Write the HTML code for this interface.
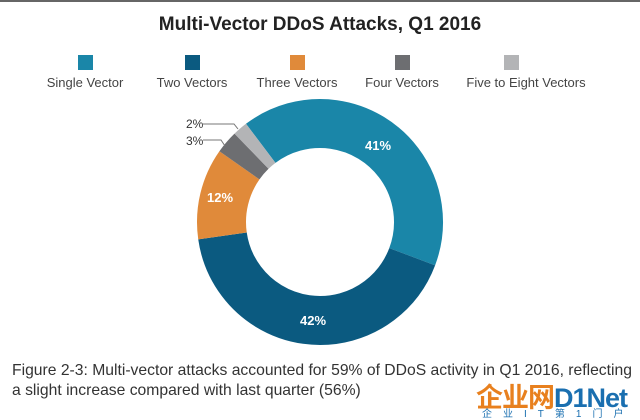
<!DOCTYPE html>
<html><head><meta charset="utf-8"><style>
html,body{margin:0;padding:0;background:#fff;}
body{width:640px;height:418px;position:relative;overflow:hidden;font-family:"Liberation Sans",sans-serif;}
.t{position:absolute;white-space:nowrap;}
.sq{position:absolute;width:15px;height:15px;top:55px;}
.lg{position:absolute;top:75px;font-size:13px;color:#444;white-space:nowrap;transform:translateX(-50%);}
</style></head><body>
<div style="position:absolute;left:0;top:0;width:640px;height:2px;background:#666"></div>
<div class="t" style="left:0;width:640px;text-align:center;top:14px;font-size:19px;font-weight:bold;color:#222;">Multi-Vector DDoS Attacks, Q1 2016</div>
<div class="sq" style="left:78px;background:#1a86a8"></div>
<div class="sq" style="left:185px;background:#0b5a80"></div>
<div class="sq" style="left:290px;background:#e08a3a"></div>
<div class="sq" style="left:395px;background:#6d6e71"></div>
<div class="sq" style="left:504px;background:#b3b4b6"></div>
<div class="lg" style="left:85px">Single Vector</div>
<div class="lg" style="left:192px">Two Vectors</div>
<div class="lg" style="left:297px">Three Vectors</div>
<div class="lg" style="left:402px">Four Vectors</div>
<div class="lg" style="left:526px">Five to Eight Vectors</div>
<svg width="640" height="418" style="position:absolute;left:0;top:0" xmlns="http://www.w3.org/2000/svg">
<g transform="translate(320,222) rotate(-127)" fill="none" stroke-width="49">
<circle r="98.5" stroke="#1a86a8" stroke-dasharray="253.7 1000" stroke-dashoffset="0"/>
<circle r="98.5" stroke="#0b5a80" stroke-dasharray="259.9 1000" stroke-dashoffset="-253.7"/>
<circle r="98.5" stroke="#e08a3a" stroke-dasharray="74.3 1000" stroke-dashoffset="-513.6"/>
<circle r="98.5" stroke="#6d6e71" stroke-dasharray="18.6 1000" stroke-dashoffset="-587.9"/>
<circle r="98.5" stroke="#b3b4b6" stroke-dasharray="12.4 1000" stroke-dashoffset="-606.5"/>
</g>
<g font-family="Liberation Sans,sans-serif" font-size="13" font-weight="bold" fill="#fff" text-anchor="middle">
<text x="378" y="150">41%</text>
<text x="313" y="325">42%</text>
<text x="220" y="202">12%</text>
</g>
<g font-family="Liberation Sans,sans-serif" font-size="12" fill="#333">
<text x="186" y="128">2%</text>
<text x="186" y="145">3%</text>
</g>
<polyline points="203,124 234,124 238,129" fill="none" stroke="#777" stroke-width="1"/>
<polyline points="203,140 221,140 225,146" fill="none" stroke="#777" stroke-width="1"/>
</svg>
<div class="t" style="left:12px;top:361px;font-size:15.7px;color:#333;line-height:20px;">Figure 2-3: Multi-vector attacks accounted for 59% of DDoS activity in Q1 2016, reflecting<br>a slight increase compared with last quarter (56%)</div>
<div class="t" style="left:476px;top:376px;font-size:27px;font-weight:bold;color:#e8801e;font-family:'Liberation Sans','Noto Sans CJK SC',sans-serif;letter-spacing:-1px;">企业网<span style="color:#1a6fb0">D1Net</span></div>
<div class="t" style="left:482px;top:405px;font-size:10px;color:#1a6fb0;letter-spacing:11px;font-family:'Liberation Sans','Noto Sans CJK SC',sans-serif;">企业IT第1门户</div>
</body></html>
